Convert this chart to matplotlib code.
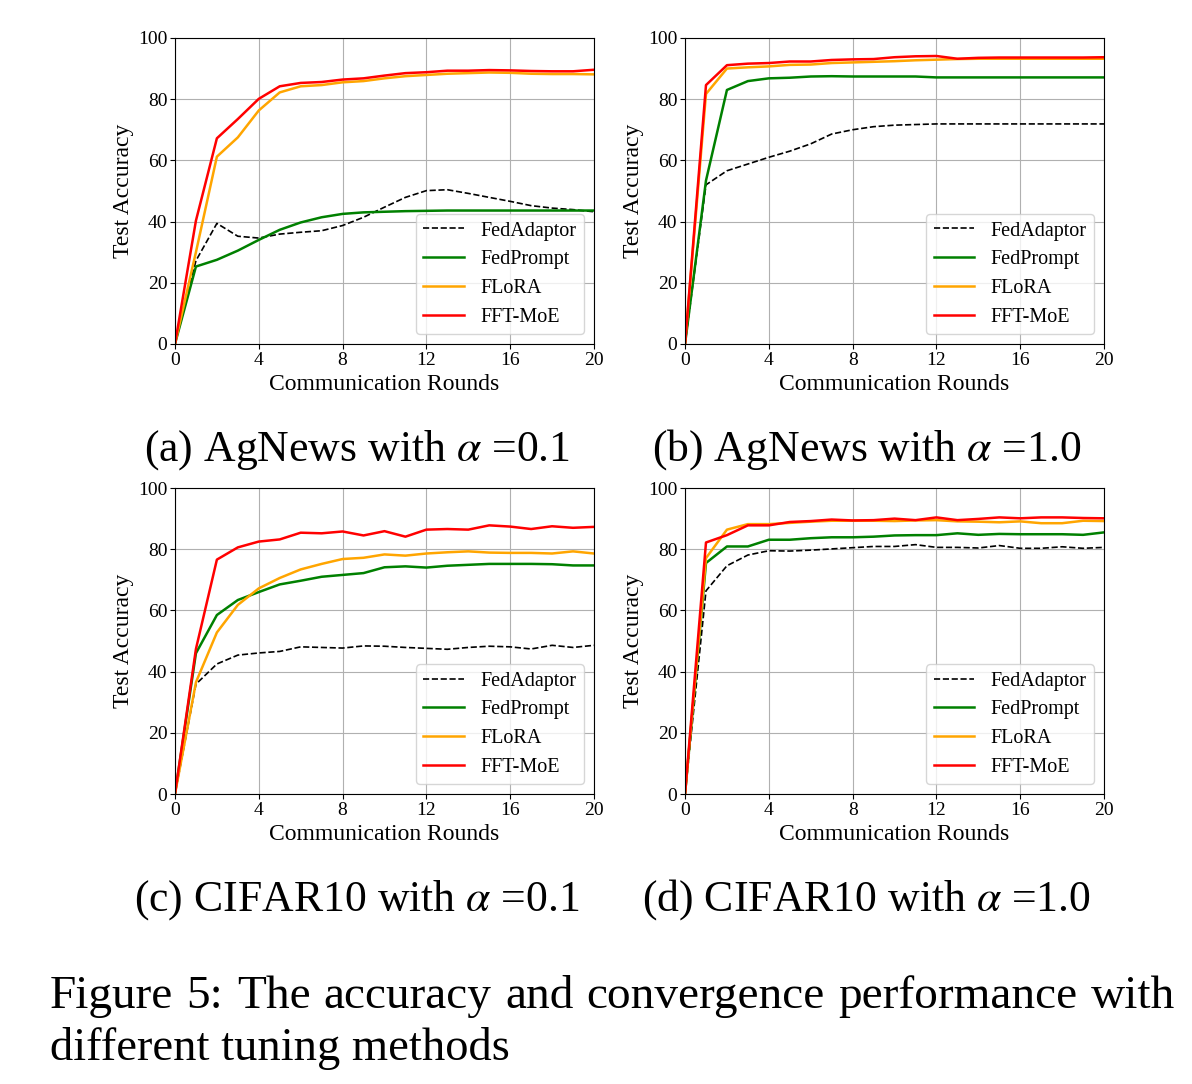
import numpy as np
import matplotlib.pyplot as plt

plt.rcParams['font.family'] = ['Liberation Serif', 'DejaVu Serif']
plt.rcParams['mathtext.fontset'] = 'stix'

rounds = np.arange(0, 21)
methods = ['FedAdaptor', 'FedPrompt', 'FLoRA', 'FFT-MoE']

# (a) AgNews, alpha = 0.1
ag01_adaptor = [0, 27.2, 39.4, 35.2, 34.6, 35.9, 36.5, 37.0, 38.7, 41.4, 44.7,
                47.9, 50.1, 50.4, 49.2, 47.9, 46.6, 45.2, 44.4, 43.9, 43.2]
ag01_prompt = [0, 25.3, 27.5, 30.5, 34.0, 37.3, 39.7, 41.4, 42.5, 43.0, 43.2,
               43.4, 43.5, 43.6, 43.6, 43.6, 43.6, 43.6, 43.6, 43.6, 43.6]
ag01_flora = [0, 30.0, 61.2, 67.5, 76.3, 82.2, 84.2, 84.6, 85.5, 85.9, 86.8,
              87.5, 87.9, 88.3, 88.5, 88.7, 88.6, 88.3, 88.2, 88.2, 88.1]
ag01_fft = [0, 40.3, 67.2, 73.5, 80.1, 84.2, 85.3, 85.6, 86.4, 86.8, 87.7,
            88.5, 88.8, 89.3, 89.3, 89.5, 89.4, 89.2, 89.1, 89.1, 89.6]

# (b) AgNews, alpha = 1.0
ag10_adaptor = [0, 52.0, 56.6, 58.8, 61.0, 63.0, 65.4, 68.6, 70.0, 71.0, 71.5,
                71.7, 71.9, 71.9, 71.9, 71.9, 71.9, 71.9, 71.9, 71.9, 71.9]
ag10_prompt = [0, 53.4, 83.0, 85.9, 86.8, 87.0, 87.4, 87.5, 87.4, 87.4, 87.4,
               87.4, 87.1, 87.1, 87.1, 87.1, 87.1, 87.1, 87.1, 87.1, 87.1]
ag10_flora = [0, 81.7, 90.0, 90.4, 90.7, 91.2, 91.3, 91.8, 92.0, 92.2, 92.4,
              92.7, 92.9, 93.1, 93.2, 93.2, 93.2, 93.2, 93.2, 93.2, 93.2]
ag10_fft = [0, 84.6, 91.1, 91.6, 91.8, 92.3, 92.3, 92.8, 93.0, 93.1, 93.7,
            94.0, 94.1, 93.2, 93.5, 93.6, 93.6, 93.6, 93.6, 93.6, 93.7]

# (c) CIFAR10, alpha = 0.1
ci01_adaptor = [0, 35.9, 42.5, 45.4, 46.1, 46.6, 48.1, 47.9, 47.7, 48.4, 48.3,
                47.9, 47.6, 47.3, 47.9, 48.3, 48.1, 47.4, 48.6, 47.9, 48.6]
ci01_prompt = [0, 46.0, 58.5, 63.4, 66.0, 68.5, 69.7, 71.0, 71.6, 72.2, 74.1,
               74.4, 74.0, 74.6, 74.9, 75.2, 75.2, 75.2, 75.1, 74.7, 74.7]
ci01_flora = [0, 36.5, 52.8, 61.8, 67.2, 70.6, 73.4, 75.2, 76.8, 77.2, 78.3,
              77.9, 78.6, 79.0, 79.3, 78.9, 78.8, 78.8, 78.6, 79.3, 78.6]
ci01_fft = [0, 47.4, 76.6, 80.6, 82.5, 83.2, 85.4, 85.2, 85.8, 84.5, 85.9,
            84.1, 86.4, 86.6, 86.4, 87.8, 87.4, 86.6, 87.5, 87.0, 87.3]

# (d) CIFAR10, alpha = 1.0
ci10_adaptor = [0, 66.4, 74.6, 78.1, 79.5, 79.4, 79.7, 80.1, 80.5, 80.9, 80.9,
                81.5, 80.6, 80.6, 80.4, 81.2, 80.3, 80.3, 80.8, 80.3, 80.6]
ci10_prompt = [0, 75.5, 80.9, 80.9, 83.1, 83.1, 83.6, 83.9, 83.9, 84.1, 84.5,
               84.6, 84.6, 85.2, 84.7, 85.0, 84.9, 84.9, 84.9, 84.7, 85.5]
ci10_flora = [0, 77.1, 86.4, 88.2, 88.2, 88.6, 89.0, 89.3, 89.3, 89.3, 89.2,
              89.4, 89.5, 89.1, 89.0, 88.8, 89.1, 88.5, 88.5, 89.3, 89.2]
ci10_fft = [0, 82.2, 84.6, 87.8, 87.8, 88.9, 89.2, 89.7, 89.4, 89.5, 90.0,
            89.5, 90.4, 89.5, 89.9, 90.4, 90.1, 90.4, 90.4, 90.2, 90.1]

captions = [r'(a) AgNews with $\alpha$ =0.1', r'(b) AgNews with $\alpha$ =1.0',
            r'(c) CIFAR10 with $\alpha$ =0.1', r'(d) CIFAR10 with $\alpha$ =1.0']
panels = [
    [ag01_adaptor, ag01_prompt, ag01_flora, ag01_fft],
    [ag10_adaptor, ag10_prompt, ag10_flora, ag10_fft],
    [ci01_adaptor, ci01_prompt, ci01_flora, ci01_fft],
    [ci10_adaptor, ci10_prompt, ci10_flora, ci10_fft],
]
styles = [('--', 'black', 1.2), ('-', 'green', 1.8), ('-', 'orange', 1.8), ('-', 'red', 1.8)]

fig = plt.figure(figsize=(11.92, 10.84), dpi=100)

lefts = [0.1468, 0.5747]
bottoms = [0.6827, 0.2675]
w, h = 0.3515, 0.2823

for k, data in enumerate(panels):
    ax = fig.add_axes([lefts[k % 2], bottoms[k // 2], w, h])
    for series, name, (ls, c, lw) in zip(data, methods, styles):
        ax.plot(rounds, series, ls, color=c, lw=lw, label=name)
    ax.set_xlim(0, 20)
    ax.set_ylim(0, 100)
    ax.set_xticks([0, 4, 8, 12, 16, 20])
    ax.set_yticks([0, 20, 40, 60, 80, 100])
    ax.grid(True, color='#b0b0b0', lw=0.8)
    ax.tick_params(labelsize=14, pad=2)
    ax.set_xlabel('Communication Rounds', fontsize=17, labelpad=4)
    ax.set_ylabel('Test Accuracy', fontsize=17, labelpad=3)
    ax.legend(loc='lower right', fontsize=14.5, handlelength=2.0, borderpad=0.35,
              labelspacing=0.48, handletextpad=0.85, borderaxespad=0.5)
    ax.text(0.434, -0.345, captions[k], transform=ax.transAxes, ha='center',
            va='center', fontsize=31.5)

# figure caption, first line justified
W, H = 1192, 1084
line1 = 'Figure 5: The accuracy and convergence performance with'.split()
renderer = fig.canvas.get_renderer()
words = [fig.text(0, 1 - 1008 / H, wd, fontsize=34, va='baseline') for wd in line1]
widths = [t.get_window_extent(renderer).width for t in words]
gap = (1175 - 50 - sum(widths)) / (len(words) - 1)
x = 50
for t, wdt in zip(words, widths):
    t.set_x(x / W)
    x += wdt + gap
fig.text(50 / W, 1 - 1060 / H, 'different tuning methods', fontsize=33.5, va='baseline')

plt.savefig('out.png', dpi=100)
